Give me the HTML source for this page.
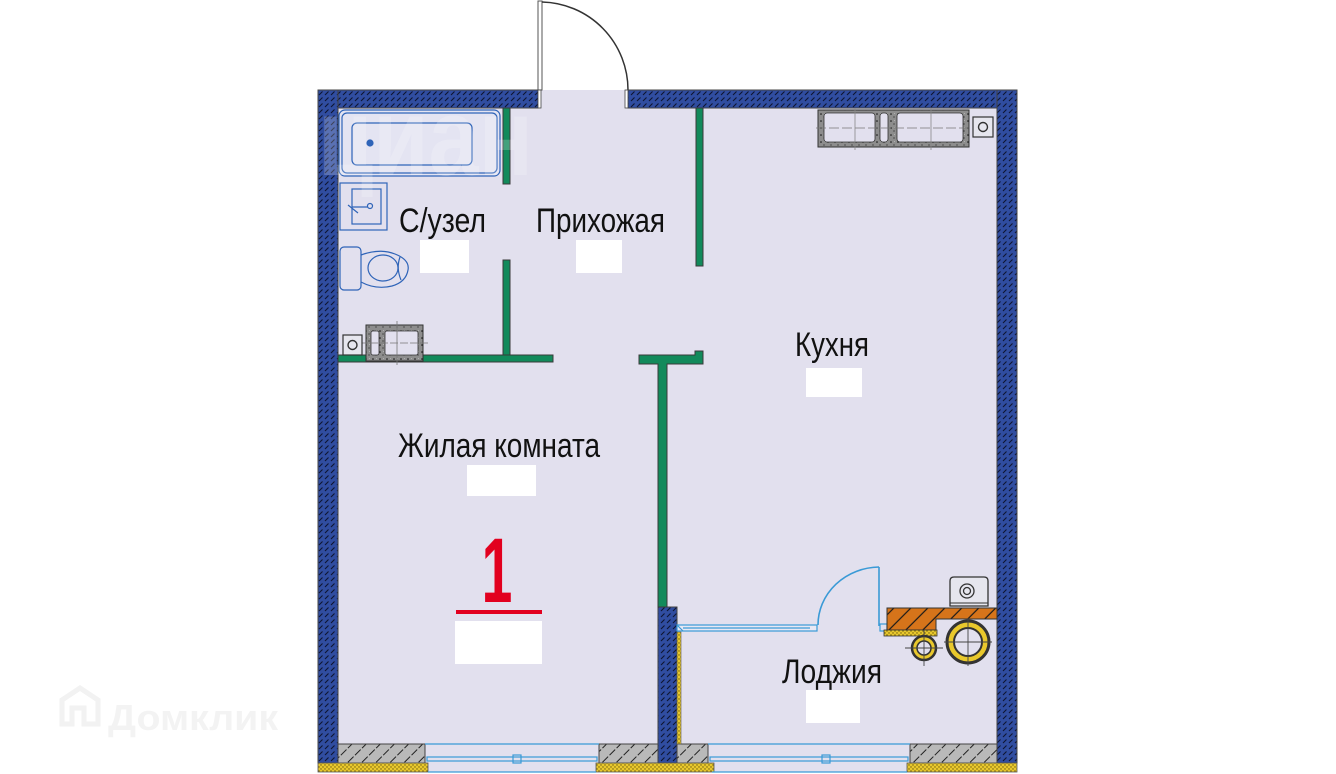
<!DOCTYPE html>
<html><head><meta charset="utf-8"><style>
html,body{margin:0;padding:0;background:#fff;}
svg{display:block;}
text{font-family:"Liberation Sans",sans-serif;}
</style></head><body>
<svg width="1336" height="774" viewBox="0 0 1336 774" xmlns="http://www.w3.org/2000/svg">
<defs>
<pattern id="bh" width="6" height="6" patternUnits="userSpaceOnUse">
<rect width="6" height="6" fill="#304da0"/>
<line x1="1" y1="5" x2="4.5" y2="1.5" stroke="#0d1430" stroke-width="1.1"/>
</pattern>
<pattern id="gh" width="10" height="10" patternUnits="userSpaceOnUse" patternTransform="rotate(-45)">
<rect width="10" height="10" fill="#b9b9b9"/>
<line x1="0" y1="5" x2="10" y2="5" stroke="#222" stroke-width="1.1" stroke-dasharray="5 2"/>
</pattern>
<pattern id="yh" width="4" height="4" patternUnits="userSpaceOnUse">
<rect width="4" height="4" fill="#e9c82c"/>
<circle cx="1" cy="1" r="0.7" fill="#6b5a10"/>
<circle cx="3" cy="3" r="0.7" fill="#6b5a10"/>
</pattern>
<pattern id="oh" width="12" height="12" patternUnits="userSpaceOnUse" patternTransform="rotate(-45)">
<rect width="12" height="12" fill="#d6741a"/>
<line x1="0" y1="6" x2="12" y2="6" stroke="#1a1a1a" stroke-width="1.2"/>
</pattern>
<pattern id="sp" width="7" height="7" patternUnits="userSpaceOnUse">
<rect width="7" height="7" fill="#8d8d8d"/>
<circle cx="2" cy="2" r="0.8" fill="#111"/>
<circle cx="5" cy="5" r="0.6" fill="#222"/>
<circle cx="5.5" cy="1.5" r="0.4" fill="#ddd"/>
</pattern>
</defs>

<!-- floor -->
<rect x="318" y="90" width="699" height="682" fill="#e2e0ee"/>

<!-- watermark domclick -->
<g>
<path d="M62 700 L80 688 L98 700 L98 724 L84 724 L84 708 L72 708 L72 724 L62 724 Z" fill="none" stroke="#f2f2f2" stroke-width="5"/>
<text x="108" y="730" font-size="36" font-weight="bold" fill="#f3f3f3" textLength="170" lengthAdjust="spacingAndGlyphs">Домклик</text>
</g>

<!-- entrance door -->
<rect x="538" y="1" width="4" height="89" fill="#fff" stroke="#555" stroke-width="1"/>
<path d="M542 2 A88 88 0 0 1 628 90" fill="none" stroke="#333" stroke-width="1.5"/>

<!-- outer walls -->
<rect x="318" y="90" width="220" height="18" fill="url(#bh)" stroke="#444" stroke-width="1"/>
<rect x="628" y="90" width="389" height="18" fill="url(#bh)" stroke="#444" stroke-width="1"/>
<rect x="538" y="90" width="3" height="18" fill="#fff" stroke="#444" stroke-width="0.8"/>
<rect x="625" y="90" width="3" height="18" fill="#fff" stroke="#444" stroke-width="0.8"/>
<rect x="318" y="90" width="20" height="673" fill="url(#bh)" stroke="#444" stroke-width="1"/>
<rect x="997" y="90" width="20" height="673" fill="url(#bh)" stroke="#444" stroke-width="1"/>
<rect x="658" y="607" width="19" height="156" fill="url(#bh)" stroke="#444" stroke-width="1"/>

<!-- bottom gray walls -->
<rect x="338" y="744" width="87" height="19" fill="url(#gh)" stroke="#444" stroke-width="1"/>
<rect x="599" y="744" width="59" height="19" fill="url(#gh)" stroke="#444" stroke-width="1"/>
<rect x="677" y="744" width="31" height="19" fill="url(#gh)" stroke="#444" stroke-width="1"/>
<rect x="910" y="744" width="87" height="19" fill="url(#gh)" stroke="#444" stroke-width="1"/>
<!-- yellow strips -->
<rect x="318" y="763" width="110" height="9" fill="url(#yh)" stroke="#555" stroke-width="0.8"/>
<rect x="596" y="763" width="118" height="9" fill="url(#yh)" stroke="#555" stroke-width="0.8"/>
<rect x="907" y="763" width="110" height="9" fill="url(#yh)" stroke="#555" stroke-width="0.8"/>
<rect x="677" y="632" width="4" height="112" fill="url(#yh)" stroke="#555" stroke-width="0.6"/>

<!-- windows -->
<g stroke="#3a9ad6" fill="none" stroke-width="1.2">
<line x1="425" y1="744" x2="599" y2="744"/>
<line x1="428" y1="772" x2="596" y2="772"/>
<rect x="427" y="757" width="170" height="4"/>
<rect x="513" y="755" width="8" height="8"/>
<line x1="708" y1="744" x2="910" y2="744"/>
<line x1="712" y1="772" x2="907" y2="772"/>
<rect x="710" y="757" width="198" height="4"/>
<rect x="822" y="755" width="8" height="8"/>
<!-- balcony door/window -->
<rect x="677" y="625" width="140" height="6" fill="#e8e8f4"/>
<line x1="683" y1="628" x2="810" y2="628"/>
<line x1="677" y1="625" x2="683" y2="631"/>
<path d="M818 625 A62 58 0 0 1 879 567" stroke-width="1.6"/>
<line x1="879" y1="567" x2="879" y2="626" stroke-width="1.6"/>
<rect x="880" y="624" width="7" height="7"/>
</g>

<!-- green partitions -->
<g fill="#128a5b" stroke="#3a3a3a" stroke-width="1">
<rect x="503" y="108" width="7" height="76"/>
<rect x="503" y="260" width="7" height="96"/>
<rect x="338" y="355" width="215" height="7"/>
<rect x="696" y="108" width="7" height="158"/>
<path d="M639 355 L695 355 L695 351 L703 351 L703 364 L667 364 L667 607 L658 607 L658 364 L639 364 Z"/>
</g>

<!-- bath -->
<g stroke="#2f64b8" fill="none" stroke-width="1.2">
<rect x="339" y="110" width="161" height="66" rx="6" fill="#e4e4f2"/>
<rect x="342" y="113" width="155" height="60" rx="5"/>
<rect x="352" y="123" width="120" height="42" rx="5"/>
<circle cx="370" cy="143" r="3" fill="#2f64b8"/>
<!-- sink -->
<rect x="340" y="183" width="47" height="47"/>
<rect x="352" y="189" width="29" height="35"/>
<path d="M348 205 L358 213 M352 207 L368 207" />
<circle cx="370" cy="206" r="2.5"/>
<!-- toilet -->
<rect x="340" y="247" width="21" height="43" rx="4"/>
<path d="M361 255 Q380 248 395 254 Q410 260 408 270 Q406 282 392 286 Q376 290 361 282"/>
<ellipse cx="383" cy="268" rx="15" ry="13"/>
<path d="M400 257 Q396 268 401 280"/>
</g>

<!-- left vent block -->
<rect x="366" y="325" width="57" height="36" fill="url(#sp)" stroke="#333" stroke-width="1"/>
<rect x="371" y="331" width="8" height="24" rx="2" fill="#e2e0ee" stroke="#333" stroke-width="0.8"/>
<rect x="385" y="331" width="33" height="24" rx="2" fill="#e2e0ee" stroke="#333" stroke-width="0.8"/>
<line x1="360" y1="343" x2="428" y2="343" stroke="#777" stroke-width="0.8" stroke-dasharray="8 2"/>
<line x1="397" y1="321" x2="397" y2="365" stroke="#777" stroke-width="0.8"/>
<rect x="343" y="335" width="19" height="20" fill="#e6e6ee" stroke="#333" stroke-width="1.2"/>
<circle cx="352.5" cy="345" r="4.5" fill="none" stroke="#333" stroke-width="1.4"/>

<!-- kitchen vent block -->
<rect x="818" y="110" width="151" height="37" fill="url(#sp)" stroke="#333" stroke-width="1"/>
<rect x="824" y="113" width="51" height="29" rx="3" fill="#e2e0ee" stroke="#333" stroke-width="0.8"/>
<rect x="880" y="113" width="8" height="29" rx="3" fill="#e2e0ee" stroke="#333" stroke-width="0.8"/>
<rect x="897" y="113" width="66" height="29" rx="3" fill="#e2e0ee" stroke="#333" stroke-width="0.8"/>
<line x1="816" y1="128" x2="972" y2="128" stroke="#777" stroke-width="0.8" stroke-dasharray="10 3"/>
<line x1="855" y1="108" x2="855" y2="150" stroke="#888" stroke-width="0.8"/>
<line x1="931" y1="108" x2="931" y2="150" stroke="#888" stroke-width="0.8"/>
<rect x="973" y="117" width="20" height="20" fill="#e6e6ee" stroke="#333" stroke-width="1.2"/>
<circle cx="983" cy="127" r="4.5" fill="none" stroke="#333" stroke-width="1.4"/>

<!-- loggia equipment -->
<path d="M887 608 L997 608 L997 619 L936 619 L936 630 L887 630 Z" fill="url(#oh)" stroke="#333" stroke-width="1"/>
<rect x="884" y="630" width="53" height="6" fill="url(#yh)" stroke="#333" stroke-width="0.8"/>
<path d="M950 606 L950 581 Q950 577 954 577 L984 577 Q988 577 988 581 L988 606 Z" fill="#e6e6ee" stroke="#333" stroke-width="1.3"/>
<line x1="950" y1="603" x2="988" y2="603" stroke="#333" stroke-width="1"/>
<circle cx="967" cy="591" r="7" fill="none" stroke="#333" stroke-width="1.3"/>
<circle cx="967" cy="591" r="3.5" fill="none" stroke="#333" stroke-width="1.3"/>
<!-- small pipe -->
<circle cx="924" cy="648" r="12" fill="#e9c82c" stroke="#333" stroke-width="2.5"/>
<circle cx="924" cy="648" r="7" fill="#e2e0ee" stroke="#333" stroke-width="1.5"/>
<line x1="905" y1="648" x2="943" y2="648" stroke="#444" stroke-width="0.9"/>
<line x1="924" y1="630" x2="924" y2="666" stroke="#444" stroke-width="0.9"/>
<!-- big pipe -->
<circle cx="968" cy="642" r="21" fill="#e9c82c" stroke="#333" stroke-width="3"/>
<circle cx="968" cy="642" r="14" fill="#e2e0ee" stroke="#333" stroke-width="2"/>
<line x1="944" y1="642" x2="992" y2="642" stroke="#444" stroke-width="0.9"/>
<line x1="968" y1="618" x2="968" y2="666" stroke="#444" stroke-width="0.9"/>

<!-- faint top-left watermark -->
<text x="318" y="175" font-size="110" font-weight="bold" fill="#ffffff" opacity="0.2" textLength="215" lengthAdjust="spacingAndGlyphs">циан</text>

<!-- labels -->
<g fill="#111">
<text x="399" y="232" font-size="34" textLength="87" lengthAdjust="spacingAndGlyphs">С/узел</text>
<text x="536" y="232" font-size="34" textLength="129" lengthAdjust="spacingAndGlyphs">Прихожая</text>
<text x="795" y="356" font-size="34" textLength="74" lengthAdjust="spacingAndGlyphs">Кухня</text>
<text x="398" y="457" font-size="34" textLength="202" lengthAdjust="spacingAndGlyphs">Жилая комната</text>
<text x="782" y="683" font-size="34" textLength="100" lengthAdjust="spacingAndGlyphs">Лоджия</text>
</g>
<rect x="420" y="240" width="49" height="33" fill="#fff"/>
<rect x="576" y="240" width="46" height="33" fill="#fff"/>
<rect x="806" y="368" width="56" height="29" fill="#fff"/>
<rect x="467" y="465" width="69" height="31" fill="#fff"/>
<rect x="806" y="690" width="54" height="33" fill="#fff"/>

<g transform="translate(497,0) scale(0.6,1)">
<text x="0" y="602" font-size="92" font-weight="bold" fill="#e2001f" text-anchor="middle">1</text>
</g>
<rect x="456" y="610" width="86" height="4" fill="#e2001f"/>
<rect x="455" y="621" width="87" height="43" fill="#fff"/>
</svg>
</body></html>
